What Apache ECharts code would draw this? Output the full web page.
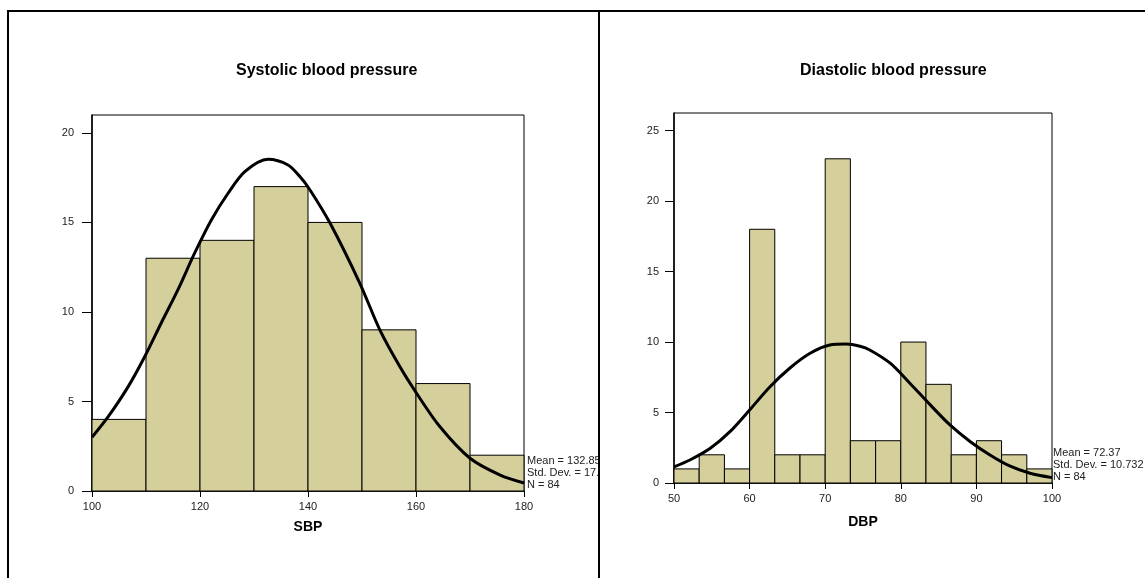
<!DOCTYPE html>
<html>
<head>
<meta charset="utf-8">
<title>Blood pressure histograms</title>
<script src="https://cdn.jsdelivr.net/npm/echarts@6/dist/echarts.min.js"></script>
<style>
  html, body { margin: 0; padding: 0; background: #fff; width: 1145px; height: 578px; overflow: hidden; }
  .rule { position: absolute; background: #000; }
  #ruleTop { left: 7px; top: 10px; width: 1138px; height: 2px; }
  #ruleLeft { left: 7px; top: 10px; width: 2px; height: 568px; }
  #ruleMid { left: 598px; top: 10px; width: 2px; height: 568px; }
  #sbp { position: absolute; left: 9px; top: 12px; width: 589px; height: 566px; }
  #dbp { position: absolute; left: 600px; top: 12px; width: 545px; height: 566px; }
</style>
</head>
<body>
<div class="rule" id="ruleTop"></div>
<div class="rule" id="ruleLeft"></div>
<div class="rule" id="ruleMid"></div>
<div id="sbp"></div>
<div id="dbp"></div>
<script>
// ---- Systolic blood pressure ----
const sbpBinEdges = [100, 110, 120, 130, 140, 150, 160, 170, 180];
const sbpCounts = [4, 13, 14, 17, 15, 9, 6, 2];
const sbpCurveX = [100, 103, 106.7, 109.75, 112.8, 115.9, 119, 122.1, 125.2, 128.3, 132.6, 136.3, 138.5, 140.4, 144.1, 149.6, 153.3, 157, 160.1, 164.4, 170, 175.6, 180];
const sbpCurveY = [3.0, 4.15, 5.83, 7.5, 9.37, 11.23, 13.28, 15.14, 16.63, 17.84, 18.53, 18.21, 17.56, 16.8, 14.95, 11.6, 9.0, 6.95, 5.46, 3.6, 1.83, 0.89, 0.45];
const sbpYTicks = [0, 5, 10, 15, 20];
const sbpStats = ['Mean = 132.85', 'Std. Dev. = 17.30', 'N = 84'];

// ---- Diastolic blood pressure ----
const dbpBinEdges = [50, 53.33, 56.67, 60, 63.33, 66.67, 70, 73.33, 76.67, 80, 83.33, 86.67, 90, 93.33, 96.67, 100];
const dbpCounts = [1, 2, 1, 18, 2, 2, 23, 3, 3, 10, 7, 2, 3, 2, 1];
const dbpCurveX = [50, 52.1, 54.8, 57.4, 60, 62.7, 65.3, 68, 70.6, 72.8, 74.6, 75.9, 78.6, 81.2, 83.9, 86.5, 89.2, 91.8, 94.4, 97.1, 100];
const dbpCurveY = [1.15, 1.63, 2.46, 3.64, 5.18, 6.83, 8.14, 9.2, 9.79, 9.86, 9.7, 9.44, 8.5, 7.08, 5.54, 4.12, 2.93, 1.99, 1.21, 0.69, 0.38];
const dbpYTicks = [0, 5, 10, 15, 20, 25];
const dbpStats = ['Mean = 72.37', 'Std. Dev. = 10.732', 'N = 84'];

const FONT = 'Arial, "Liberation Sans", sans-serif';
const BAR_FILL = '#d4cf9b';

function histogramItem(params, api) {
  const lo = api.coord([api.value(0), api.value(2)]);
  const hi = api.coord([api.value(1), 0]);
  return {
    type: 'rect',
    shape: { x: lo[0], y: lo[1], width: hi[0] - lo[0], height: hi[1] - lo[1] },
    style: { fill: BAR_FILL, stroke: '#000', lineWidth: 1 }
  };
}

function buildPanel(el, cfg) {
  const chart = echarts.init(el, null, { renderer: 'canvas' });
  const bins = cfg.counts.map((c, i) => [cfg.edges[i], cfg.edges[i + 1], c]);
  const curve = cfg.curveX.map((x, i) => [x, cfg.curveY[i]]);
  chart.setOption({
    animation: false,
    backgroundColor: '#fff',
    grid: {
      left: cfg.grid.left, top: cfg.grid.top, width: cfg.grid.width, height: cfg.grid.height,
      show: true, borderColor: '#000', borderWidth: 1, backgroundColor: '#fff'
    },
    xAxis: {
      type: 'value',
      min: cfg.xMin, max: cfg.xMax, interval: cfg.xInterval,
      name: cfg.xName, nameLocation: 'middle', nameGap: cfg.xNameGap,
      nameTextStyle: { fontFamily: FONT, fontSize: 14, fontWeight: 'bold', color: '#000' },
      axisLine: { show: true, lineStyle: { color: '#000', width: 1.5 } },
      axisTick: { show: true, length: 6, lineStyle: { color: '#000' } },
      axisLabel: { fontFamily: FONT, fontSize: 11, color: '#222', margin: 10 },
      splitLine: { show: false }
    },
    yAxis: {
      type: 'value',
      min: 0, max: cfg.yMax, interval: 5,
      axisLine: { show: true, lineStyle: { color: '#000', width: 1.5 } },
      axisTick: { show: true, length: cfg.tickLen, customValues: cfg.yTicks, lineStyle: { color: '#000' } },
      axisLabel: { fontFamily: FONT, fontSize: 11, color: '#222', margin: cfg.labelMargin, customValues: cfg.yTicks },
      splitLine: { show: false }
    },
    graphic: [
      {
        type: 'text', left: cfg.titleX, top: cfg.titleY,
        style: { text: cfg.title, font: 'bold 16px ' + FONT, fill: '#000', textAlign: 'center' }
      },
      {
        type: 'text', left: cfg.statsX, top: cfg.statsY,
        style: { text: cfg.stats.join('\n'), font: '11px ' + FONT, fill: '#222', lineHeight: 12 }
      }
    ],
    series: [
      {
        type: 'custom',
        renderItem: histogramItem,
        encode: { x: [0, 1], y: 2 },
        data: bins,
        z: 2
      },
      {
        type: 'line',
        data: curve,
        smooth: 0.3,
        showSymbol: false,
        lineStyle: { color: '#000', width: 3 },
        z: 3
      }
    ]
  });
  return chart;
}

buildPanel(document.getElementById('sbp'), {
  edges: sbpBinEdges, counts: sbpCounts, curveX: sbpCurveX, curveY: sbpCurveY,
  yTicks: sbpYTicks, stats: sbpStats,
  grid: { left: 83, top: 103, width: 432, height: 376 },
  xMin: 100, xMax: 180, xInterval: 20, yMax: 21,
  xName: 'SBP', xNameGap: 29, tickLen: 10, labelMargin: 18,
  title: 'Systolic blood pressure', titleX: 227, titleY: 51,
  statsX: 518, statsY: 443
});

buildPanel(document.getElementById('dbp'), {
  edges: dbpBinEdges, counts: dbpCounts, curveX: dbpCurveX, curveY: dbpCurveY,
  yTicks: dbpYTicks, stats: dbpStats,
  grid: { left: 74, top: 101, width: 378, height: 370 },
  xMin: 50, xMax: 100, xInterval: 10, yMax: 26.25,
  xName: 'DBP', xNameGap: 32, tickLen: 9, labelMargin: 15,
  title: 'Diastolic blood pressure', titleX: 200, titleY: 51,
  statsX: 453, statsY: 435
});
</script>
</body>
</html>
